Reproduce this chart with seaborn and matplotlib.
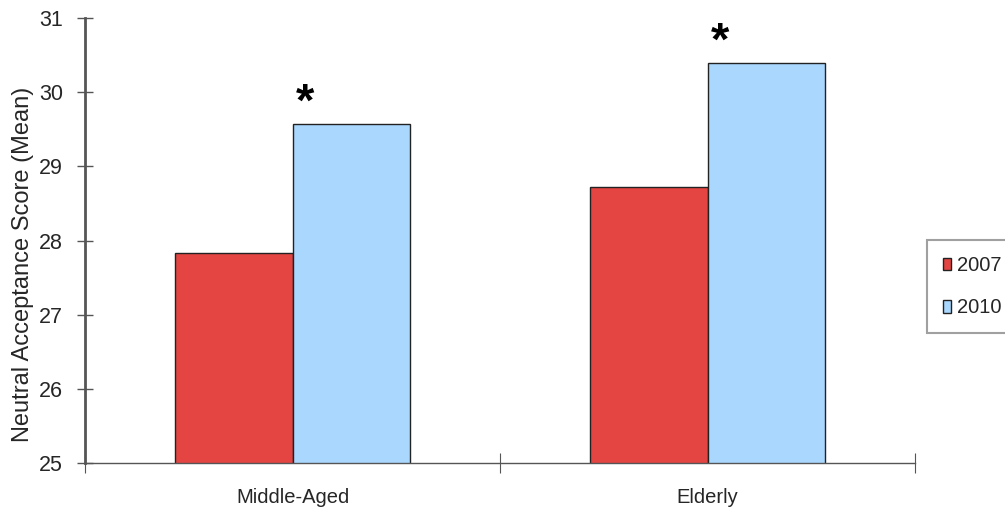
import numpy as np
import pandas as pd
import seaborn as sns
import matplotlib.pyplot as plt
from matplotlib.ticker import FixedLocator, NullFormatter

groups = ["Middle-Aged", "Elderly"]
years = ["2007", "2010"]
score_2007 = [27.83, 28.72]
score_2010 = [29.57, 30.40]
significant = ["*", "*"]

df = pd.DataFrame({
    "group": groups * 2,
    "year": [years[0]] * 2 + [years[1]] * 2,
    "score": score_2007 + score_2010,
})

sns.set_style("white")
plt.rcParams["font.family"] = ["Liberation Sans", "DejaVu Sans"]

fig = plt.figure(figsize=(10.05, 5.12), dpi=100)
ax = fig.add_axes([0.0846, 0.0957, 0.8259, 0.8691])

palette = {"2007": "#E44542", "2010": "#AAD7FE"}
sns.barplot(data=df, x="group", y="score", hue="year", palette=palette,
            width=0.567, gap=0, edgecolor="#222222", linewidth=1,
            saturation=1, ax=ax, legend=True)

ax.set_ylim(25, 31)
ax.set_xlim(-0.5, 1.5)
ax.set_yticks(range(25, 32))
ax.tick_params(axis="y", left=True, labelsize=15.5, direction="inout",
               length=12, width=1, color="#555555", pad=10)
ax.tick_params(axis="x", which="major", length=0, labelsize=14.5, pad=18)
ax.xaxis.set_minor_locator(FixedLocator([-0.5, 0.5, 1.5]))
ax.xaxis.set_minor_formatter(NullFormatter())
ax.tick_params(axis="x", which="minor", bottom=True, direction="inout",
               length=14, width=0.8, color="#555555")
ax.set_xlabel("")
ax.set_ylabel("Neutral Acceptance Score (Mean)", fontsize=17)
ax.yaxis.set_label_coords(-0.062, 0.447)

for s in ["top", "right"]:
    ax.spines[s].set_visible(False)
ax.spines["left"].set_color("#555555")
ax.spines["left"].set_linewidth(2)
ax.spines["bottom"].set_color("#555555")
ax.spines["bottom"].set_linewidth(1)

# significance markers above 2010 bars
for i, (v, mark) in enumerate(zip(score_2010, significant)):
    ax.text(i + 0.03, v + 0.27, mark, ha="center", va="center",
            fontsize=34, fontweight="bold", color="black")

ax.legend_.remove()
handles, labels = ax.get_legend_handles_labels()
leg = fig.legend(handles, labels, loc="upper left",
                 bbox_to_anchor=(927 / 1005, (512 - 240) / 512),
                 frameon=True, fancybox=False, fontsize=14.5,
                 handlelength=0.4, handleheight=0.6, handletextpad=0.3,
                 labelspacing=1.15, borderpad=0.8, borderaxespad=0)
leg.get_frame().set_edgecolor("#888888")
leg.get_frame().set_linewidth(1.5)

fig.savefig("out.png", dpi=100)
